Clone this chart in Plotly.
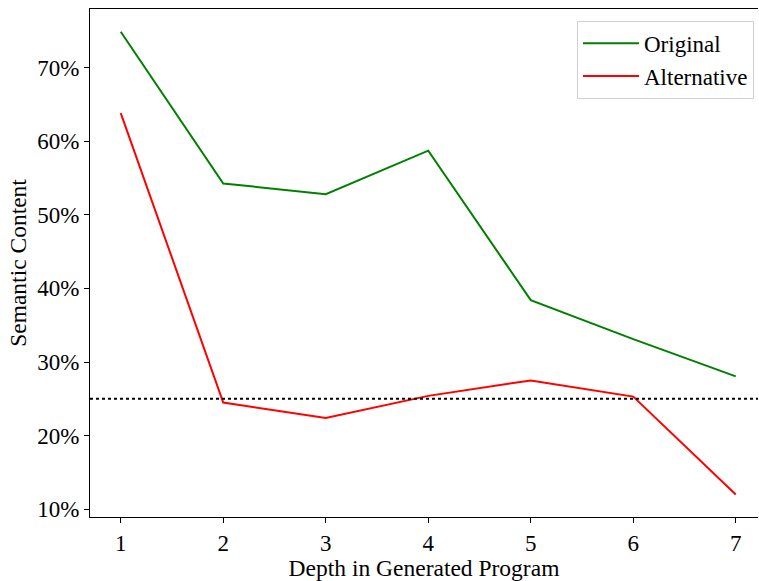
import plotly.graph_objects as go

depth = [1, 2, 3, 4, 5, 6, 7]
original = [74.85, 54.25, 52.8, 58.7, 38.4, 33.1, 28.05]
alternative = [63.8, 24.5, 22.4, 25.4, 27.5, 25.3, 12.0]
baseline = 25.0
x_ticks = [1, 2, 3, 4, 5, 6, 7]
y_ticks = [10, 20, 30, 40, 50, 60, 70]
y_tick_labels = [f"{v}%" for v in y_ticks]

FONT = "Liberation Serif, Times New Roman, serif"

fig = go.Figure()
fig.add_trace(go.Scatter(x=depth, y=original, mode="lines", name="Original",
                         line=dict(color="green", width=2)))
fig.add_trace(go.Scatter(x=depth, y=alternative, mode="lines", name="Alternative",
                         line=dict(color="red", width=2)))
fig.add_hline(y=baseline, line=dict(color="black", width=2, dash="dot"))

fig.update_layout(
    width=759, height=581,
    margin=dict(l=90, r=1, t=9, b=64),
    paper_bgcolor="white", plot_bgcolor="white",
    font=dict(family=FONT, size=23, color="black"),
    showlegend=True,
    legend=dict(x=0.994, xanchor="right", y=0.977, yanchor="top",
                bordercolor="#d0d0d0", borderwidth=1, bgcolor="white",
                font=dict(family=FONT, size=23, color="black"), tracegroupgap=0,
                itemwidth=56),
    xaxis=dict(range=[0.70, 7.217], tickvals=x_ticks, showgrid=False, zeroline=False,
               showline=True, linecolor="black", linewidth=1, mirror=True,
               ticks="outside", ticklen=5, tickcolor="black",
               title=dict(text="Depth in Generated Program", standoff=0,
                          font=dict(family=FONT, size=23.5, color="black")),
               tickfont=dict(family=FONT, size=23, color="black")),
    yaxis=dict(range=[8.95, 77.94], tickvals=y_ticks, ticktext=y_tick_labels,
               showgrid=False, zeroline=False, showline=True, linecolor="black",
               linewidth=1, ticks="outside", ticklen=5, tickcolor="black",
               title=dict(text="Semantic Content", standoff=4,
                          font=dict(family=FONT, size=23.5, color="black")),
               tickfont=dict(family=FONT, size=23, color="black")),
)

fig.write_html("out.html")
